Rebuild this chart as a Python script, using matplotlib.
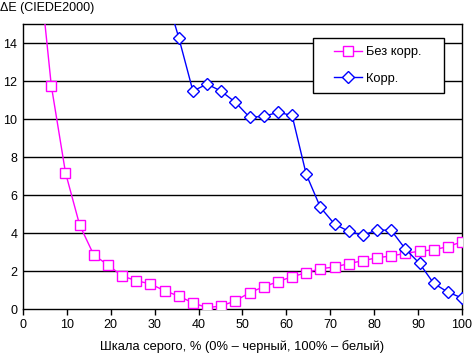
import numpy as np
import matplotlib
matplotlib.use("Agg")
import matplotlib.pyplot as plt
from matplotlib.patches import Rectangle

plt.rcParams['font.family'] = ['Liberation Sans', 'DejaVu Sans']

n_points = 32
x_all = [i * 100.0 / 31 for i in range(n_points)]

# Без корр. (starting at index 1)
nocorr_idx_start = 1
nocorr_vals = [19.0, 11.75, 7.18, 4.42, 2.84, 2.32, 1.74, 1.49, 1.32, 0.96, 0.68,
               0.32, 0.07, 0.16, 0.43, 0.86, 1.17, 1.44, 1.70, 1.91, 2.12, 2.21,
               2.39, 2.54, 2.70, 2.79, 2.93, 3.04, 3.12, 3.28, 3.54]

# Корр. (starting at index 10)
corr_idx_start = 10
corr_vals = [16.8, 14.28, 11.47, 11.84, 11.46, 10.88, 10.09, 10.14, 10.35, 10.19,
             7.09, 5.35, 4.47, 4.09, 3.88, 4.16, 4.14, 3.16, 2.40, 1.35, 0.89, 0.58]

x_ticks = [0, 10, 20, 30, 40, 50, 60, 70, 80, 90, 100]
y_ticks = [0, 2, 4, 6, 8, 10, 12, 14]

x_nocorr = x_all[nocorr_idx_start:nocorr_idx_start + len(nocorr_vals)]
x_corr = x_all[corr_idx_start:corr_idx_start + len(corr_vals)]

W, H = 472, 353
fig = plt.figure(figsize=(4.72, 3.53), dpi=100)
ax = fig.add_axes([23 / W, 44 / H, (462 - 23) / W, (309 - 24) / H])

for y in y_ticks[1:]:
    ax.axhline(y, color='black', lw=1.0, zorder=1)

ax.plot(x_nocorr, nocorr_vals, color='#ff00ff', lw=1.0, marker='s', markersize=6.5,
        markerfacecolor='white', markeredgecolor='#ff00ff', markeredgewidth=1.0,
        label='Без корр.', zorder=3, clip_on=True)
ax.plot(x_corr, corr_vals, color='#0000ff', lw=1.0, marker='D', markersize=6,
        markerfacecolor='white', markeredgecolor='#0000ff', markeredgewidth=1.0,
        label='Корр.', zorder=4, clip_on=True)

ax.set_xlim(0, 100)
ax.set_ylim(0, 15)
ax.set_xticks(x_ticks)
ax.set_yticks(y_ticks)
ax.tick_params(axis='x', length=4, width=1, direction='out', labelsize=9, pad=3)
ax.tick_params(axis='y', length=0, labelsize=9, pad=4)
for s in ax.spines.values():
    s.set_linewidth(1.0)
    s.set_color('black')

ax.set_xlabel('Шкала серого, % (0% – черный, 100% – белый)', fontsize=9.3, labelpad=7)
fig.text(0.0, 1 - 8 / H, 'ΔE (CIEDE2000)', fontsize=9, va='center', ha='left')

# legend frame
rect = Rectangle((313 / W, 1 - 93 / H), 131 / W, 55 / H,
                 transform=fig.transFigure, facecolor='white',
                 edgecolor='black', lw=1.0, zorder=5, clip_on=False)
ax.add_patch(rect)
leg = ax.legend(loc='center left', bbox_to_anchor=(334 / W, 1 - 65.5 / H),
                bbox_transform=fig.transFigure,
                fontsize=9.3, frameon=False, borderpad=0, labelspacing=1.1,
                handlelength=2.2, handletextpad=0.3, borderaxespad=0)
leg.set_zorder(6)

fig.savefig('out.png', dpi=100)
